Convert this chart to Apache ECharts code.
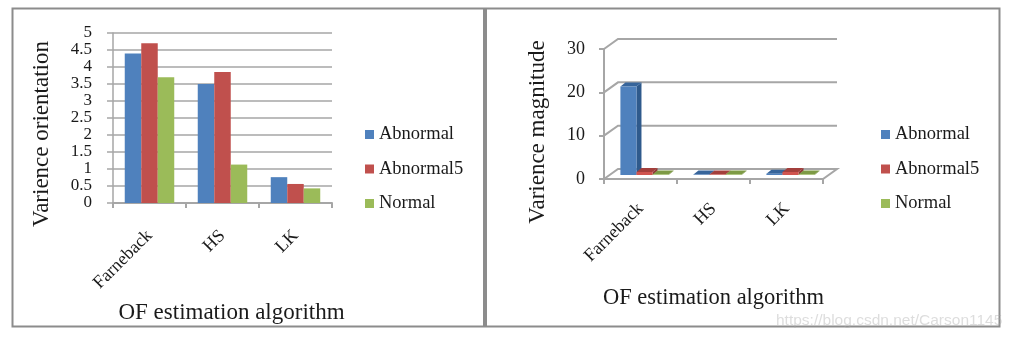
<!DOCTYPE html>
<html>
<head>
<meta charset="utf-8">
<style>
  html, body { margin: 0; padding: 0; background: #fff; }
  #chart { width: 1023px; height: 340px; }
</style>
<script src="https://cdn.jsdelivr.net/npm/echarts@6/dist/echarts.min.js"></script>
</head>
<body>
<div id="chart"></div>
<script>
const algorithms = ['Farneback', 'HS', 'LK'];
const seriesNames = ['Abnormal', 'Abnormal5', 'Normal'];

// left chart
const orientationAbnormal = [4.4, 3.5, 0.76];
const orientationAbnormal5 = [4.7, 3.85, 0.56];
const orientationNormal = [3.7, 1.13, 0.43];

// right chart
const magnitudeAbnormal = [20.4, 0.1, 0.3];
const magnitudeAbnormal5 = [0.7, 0.1, 0.7];
const magnitudeNormal = [0.1, 0.1, 0.1];
const magnitudeTicks = [0, 10, 20, 30];

const colors = ['#4f81bd', '#c0504d', '#9bbb59'];
const frontColors = ['#4f81bd', '#d0544f', '#9bbb59'];
const sideColors = ['#2f5a8c', '#8f3a38', '#71893f'];
const topColors = ['#37659b', '#a33f3c', '#7d9a45'];
const gridColor = '#a6a6a6';
const textColor = '#1a1a1a';
const serif = '"Liberation Serif", serif';

const orientationData = [orientationAbnormal, orientationAbnormal5, orientationNormal];
const magnitudeData = [magnitudeAbnormal, magnitudeAbnormal5, magnitudeNormal];

// depth of the fake 3d box, in pixels
const wallDx = 14, wallDy = -10;
const barDepthDx = 5, barDepthDy = -4;

function renderWall(params, api) {
    const front = api.coord([0, api.value(0)]);
    const band = api.size([1, 0])[0];
    const x0 = front[0] - band / 2;
    const y0 = front[1];
    const x1 = x0 + band * 3;
    const points = api.value(0) === 0
        ? [[x0, y0], [x0 + wallDx, y0 + wallDy], [x1 + wallDx, y0 + wallDy], [x1, y0], [x0, y0]]
        : [[x0, y0], [x0 + wallDx, y0 + wallDy], [x1 + wallDx, y0 + wallDy]];
    return {
        type: 'polyline',
        shape: { points: points },
        style: { fill: null, stroke: gridColor, lineWidth: 2 }
    };
}

function renderBar3d(idx) {
    return function (params, api) {
        const top = api.coord([api.value(0), api.value(1)]);
        const bottom = api.coord([api.value(0), 0]);
        const barW = api.size([1, 0])[0] * 0.22;
        const left = top[0] + (idx - 1.5) * barW + 4;
        const right = left + barW;
        const y1 = top[1] - 4;
        const y0 = bottom[1] - 4;
        return {
            type: 'group',
            children: [
                {
                    type: 'polygon',
                    shape: { points: [[right, y1], [right + barDepthDx, y1 + barDepthDy], [right + barDepthDx, y0 + barDepthDy], [right, y0]] },
                    style: { fill: sideColors[idx] }
                },
                {
                    type: 'polygon',
                    shape: { points: [[left, y1], [left + barDepthDx, y1 + barDepthDy], [right + barDepthDx, y1 + barDepthDy], [right, y1]] },
                    style: { fill: topColors[idx] }
                },
                {
                    type: 'rect',
                    shape: { x: left, y: y1, width: barW, height: y0 - y1 },
                    style: { fill: frontColors[idx] }
                }
            ]
        };
    };
}

function categoryAxis(gridIndex, nameGap, nameSize, namePadding, labelMargin) {
    return {
        type: 'category',
        gridIndex: gridIndex,
        data: algorithms,
        name: 'OF estimation algorithm',
        nameLocation: 'middle',
        nameGap: nameGap,
        nameTextStyle: { fontFamily: serif, fontSize: nameSize, color: textColor, padding: namePadding },
        axisLine: { lineStyle: { color: gridColor, width: 2 } },
        axisTick: { show: true, length: 5, lineStyle: { color: gridColor, width: 2 } },
        axisLabel: { rotate: 45, interval: 0, margin: labelMargin, fontFamily: serif, fontSize: 18, color: textColor }
    };
}

function legendAt(left) {
    return {
        orient: 'vertical',
        left: left,
        top: 125,
        padding: 0,
        icon: 'rect',
        itemWidth: 9,
        itemHeight: 9,
        itemGap: 15.5,
        data: seriesNames,
        textStyle: { fontFamily: serif, fontSize: 18.5, color: textColor }
    };
}

const barSeries = seriesNames.map((name, i) => ({
    name: name,
    type: 'bar',
    xAxisIndex: 0,
    yAxisIndex: 0,
    data: orientationData[i],
    barWidth: '22.6%',
    barGap: 0,
    itemStyle: { color: colors[i] }
}));

const wallSeries = {
    type: 'custom',
    xAxisIndex: 1,
    yAxisIndex: 1,
    silent: true,
    clip: false,
    z: 1,
    data: magnitudeTicks.map(t => [t]),
    encode: { y: 0 },
    renderItem: renderWall
};

const bar3dSeries = seriesNames.map((name, i) => ({
    name: name,
    type: 'custom',
    xAxisIndex: 1,
    yAxisIndex: 1,
    clip: false,
    z: 3,
    data: magnitudeData[i].map((v, c) => [c, v]),
    encode: { x: 0, y: 1 },
    itemStyle: { color: colors[i] },
    renderItem: renderBar3d(i)
}));

const chart = echarts.init(document.getElementById('chart'));
chart.setOption({
    animation: false,
    backgroundColor: '#fff',
    grid: [
        { left: 113, top: 33, width: 219, height: 170 },
        { left: 604, top: 49, width: 219, height: 130 }
    ],
    xAxis: [categoryAxis(0, 98, 23, [0, 0, 0, 18], 30), categoryAxis(1, 108, 22.5, 0, 27)],
    yAxis: [
        {
            type: 'value',
            gridIndex: 0,
            min: 0,
            max: 5,
            interval: 0.5,
            name: 'Varience orientation',
            nameLocation: 'middle',
            nameGap: 60,
            nameTextStyle: { fontFamily: serif, fontSize: 23, color: textColor, padding: [0, 32, 0, 0] },
            axisLine: { show: true, lineStyle: { color: gridColor, width: 1.5 } },
            axisTick: { show: true, length: 6, lineStyle: { color: gridColor, width: 1.5 } },
            axisLabel: { margin: 21, fontFamily: serif, fontSize: 17, color: textColor },
            splitLine: { show: true, lineStyle: { color: gridColor, width: 1.5 } }
        },
        {
            type: 'value',
            gridIndex: 1,
            min: 0,
            max: 30,
            interval: 10,
            name: 'Varience magnitude',
            nameLocation: 'middle',
            nameGap: 55,
            nameTextStyle: { fontFamily: serif, fontSize: 23, color: textColor, padding: [0, 36, 0, 0] },
            axisLine: { show: true, lineStyle: { color: gridColor, width: 2 } },
            axisTick: { show: true, length: 5, lineStyle: { color: gridColor, width: 2 } },
            axisLabel: { margin: 19, fontFamily: serif, fontSize: 18, color: textColor },
            splitLine: { show: false }
        }
    ],
    legend: [legendAt(365), legendAt(881)],
    series: [...barSeries, wallSeries, ...bar3dSeries],
    graphic: [
        {
            type: 'rect',
            silent: true,
            shape: { x: 12.5, y: 8.5, width: 987, height: 318 },
            style: { fill: null, stroke: '#8c8c8c', lineWidth: 2 }
        },
        {
            type: 'rect',
            silent: true,
            shape: { x: 483, y: 8, width: 4, height: 319 },
            style: { fill: '#8c8c8c' }
        },
        {
            type: 'text',
            silent: true,
            left: 776,
            top: 313,
            style: { text: 'https://blog.csdn.net/Carson1145', font: '15.5px "Liberation Sans"', fill: 'rgba(170,170,170,0.4)' }
        }
    ]
});
</script>
</body>
</html>
